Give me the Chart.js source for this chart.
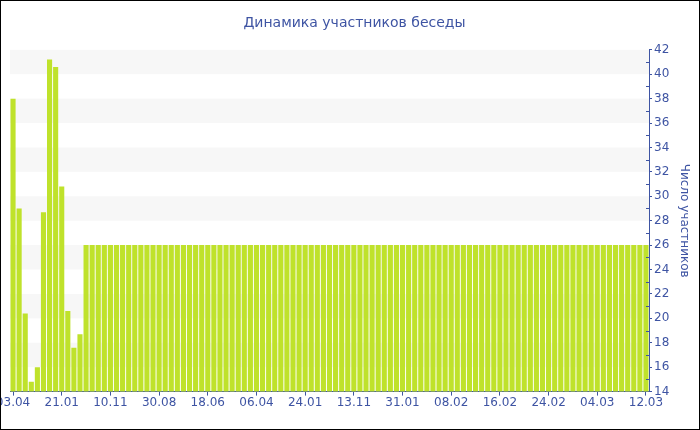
<!DOCTYPE html>
<html>
<head>
<meta charset="utf-8">
<script src="https://cdn.jsdelivr.net/npm/chart.js@4"></script>
<style>
  body { margin: 0; background: #fff; }
  #wrap { width: 700px; height: 430px; box-sizing: border-box; border: 1px solid #000; }
</style>
</head>
<body>
<div id="wrap"><canvas id="grafico" width="698" height="428"></canvas></div>
<script>
const blue = '#3e54a3';

const tickLabels = ['03.04', '21.01', '10.11', '30.08', '18.06', '06.04', '24.01',
  '13.11', '31.01', '08.02', '16.02', '24.02', '04.03', '12.03'];

const participants = [
  38, 29, 20.4, 14.8, 16, 28.7, 41.2, 40.6, 30.8, 20.6, 17.6, 18.7,
  26, 26, 26, 26, 26, 26, 26, 26, 26, 26, 26, 26, 26, 26, 26, 26,
  26, 26, 26, 26, 26, 26, 26, 26, 26, 26, 26, 26, 26, 26, 26, 26,
  26, 26, 26, 26, 26, 26, 26, 26, 26, 26, 26, 26, 26, 26, 26, 26,
  26, 26, 26, 26, 26, 26, 26, 26, 26, 26, 26, 26, 26, 26, 26, 26,
  26, 26, 26, 26, 26, 26, 26, 26, 26, 26, 26, 26, 26, 26, 26, 26,
  26, 26, 26, 26, 26, 26, 26, 26, 26, 26, 26, 26, 26
];

const yMin = 14, yMax = 42;
const bands = [[40, 42], [36, 38], [32, 34], [28, 30], [24, 26], [20, 22], [16, 18]];

// one category per bar, only every 8th bar carries a date
const labels = participants.map((v, i) => i % 8 === 0 ? tickLabels[i / 8] : '');

const fondo = {
  id: 'fondo',
  beforeDatasetsDraw(chart) {
    const { ctx, chartArea } = chart;
    const y = chart.scales.y;
    ctx.save();
    ctx.fillStyle = '#f7f7f7';
    bands.forEach(([a, b]) => {
      const top = y.getPixelForValue(b);
      const bot = y.getPixelForValue(a);
      ctx.fillRect(chartArea.left, top, chartArea.right - chartArea.left, bot - top);
    });
    ctx.restore();
  },
  afterDraw(chart) {
    const { ctx } = chart;
    const y = chart.scales.y;
    ctx.save();
    ctx.strokeStyle = blue;
    ctx.lineWidth = 1;
    ctx.beginPath();
    for (let v = yMin + 1; v < yMax; v += 2) {
      const py = Math.round(y.getPixelForValue(v)) + 0.5;
      ctx.moveTo(y.left - 3, py);
      ctx.lineTo(y.left, py);
    }
    ctx.stroke();
    ctx.restore();
  }
};

const ctx = document.getElementById('grafico');

const myChart = new Chart(ctx, {
  type: 'bar',
  data: {
    labels,
    datasets: [{
      label: 'Число участников',
      data: participants,
      backgroundColor: '#bfe22b',
      borderWidth: 0,
      barPercentage: 0.84,
      categoryPercentage: 1,
    }],
  },
  options: {
    responsive: false,
    animation: false,
    layout: { padding: { left: 9, bottom: 19, right: 0 } },
    plugins: {
      legend: { display: false },
      tooltip: { enabled: false },
      title: {
        display: true,
        text: 'Динамика участников беседы',
        color: blue,
        font: { family: 'DejaVu Sans', size: 14, weight: 'normal' },
        padding: { top: 14, bottom: 18 },
      },
    },
    scales: {
      x: {
        afterFit(scale) { scale.paddingLeft = 0; scale.paddingRight = 0; },
        afterBuildTicks(scale) {
          scale.ticks = scale.ticks.filter(t => t.value % 8 === 0);
        },
        grid: {
          display: true,
          drawOnChartArea: false,
          offset: false,
          tickLength: 4,
          tickColor: blue,
        },
        border: { color: blue },
        ticks: {
          autoSkip: false,
          maxRotation: 0,
          padding: 0,
          color: blue,
          font: { family: 'DejaVu Sans', size: 12 },
          callback: (value) => labels[value],
        },
      },
      y: {
        position: 'right',
        min: yMin,
        max: yMax,
        afterFit(scale) { scale.width = 50; },
        grid: {
          drawOnChartArea: false,
          tickLength: 3,
          tickColor: blue,
        },
        border: { color: blue },
        ticks: {
          stepSize: 2,
          padding: 2,
          color: blue,
          font: { family: 'DejaVu Sans', size: 12 },
        },
        title: {
          display: true,
          text: 'Число участников',
          color: blue,
          font: { family: 'DejaVu Sans', size: 12 },
          padding: { top: 8, bottom: 0 },
        },
      },
    },
  },
  plugins: [fondo],
});
</script>
</body>
</html>
